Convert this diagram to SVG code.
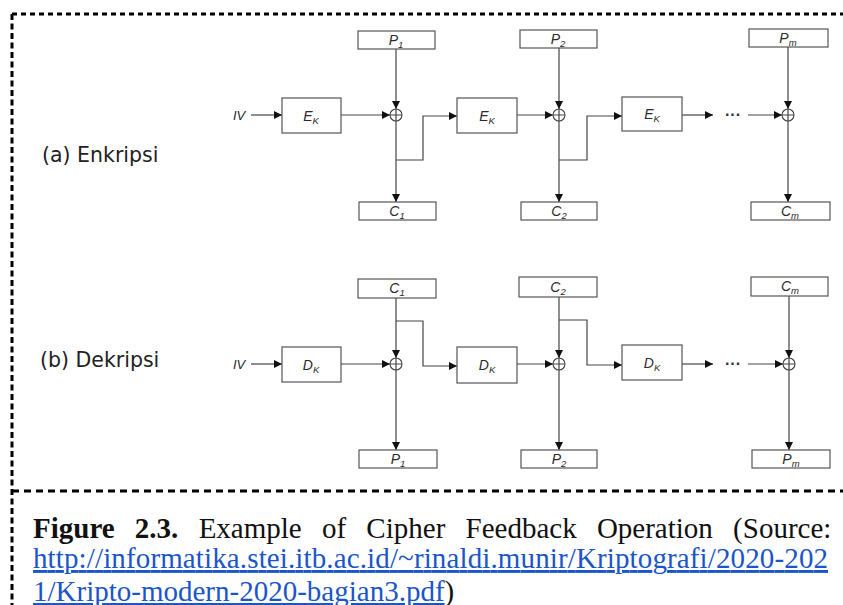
<svg xmlns="http://www.w3.org/2000/svg" width="843" height="605" viewBox="0 0 843 605">
  <style>
    .box { fill: #ffffff; stroke: #555555; stroke-width: 1.2; }
    .wire { fill: none; stroke: #444444; stroke-width: 1.2; }
    .xor { fill: #ffffff; stroke: #444444; stroke-width: 1.1; }
    .lbl { font-family: "Liberation Sans", Arial, sans-serif; font-style: italic; font-size: 14px; fill: #2a2a2a; text-anchor: middle; }
    .sub { font-size: 9.5px; }
    .iv { font-family: "Liberation Sans", Arial, sans-serif; font-style: italic; font-size: 13px; fill: #2a2a2a; }
    .dots { font-family: "Liberation Sans", Arial, sans-serif; font-size: 16px; font-weight: bold; fill: #333333; }
    .row { font-family: "DejaVu Sans", Verdana, sans-serif; font-size: 20.5px; fill: #222222; }
    .frame { fill: none; stroke: #000000; stroke-width: 3; }
    .cap { font-family: "Liberation Serif", "Times New Roman", serif; font-size: 29px; fill: #111111; }
    .link { fill: #1a56c8; text-decoration: underline; }
  </style>
  <defs>
    <marker id="arr" viewBox="0 0 8 8" refX="8" refY="4" markerWidth="8" markerHeight="8" markerUnits="userSpaceOnUse" orient="auto">
      <path d="M0,0 L8,4 L0,8 Z" fill="#111111"/>
    </marker>
    <g id="xorsym">
      <circle class="xor" cx="0" cy="0" r="6"/>
      <path class="wire" d="M-6,0 H6 M0,-6 V6" stroke-width="0.9"/>
    </g>
  </defs>

  <!-- dashed frame -->
  <g id="frame">
    <path class="frame" d="M12,14 H843" stroke-dasharray="5 4"/>
    <path class="frame" d="M12,14 V605" stroke-dasharray="6 3.5"/>
    <path class="frame" d="M12,491 H843" stroke-dasharray="7 5"/>
  </g>

  <!-- row titles -->
  <text class="row" x="42" y="162">(a) Enkripsi</text>
  <text class="row" x="40" y="367">(b) Dekripsi</text>

  <!-- connectors -->
  <g id="connectors">
    <!-- encryption -->
    <path class="wire" d="M251,115 H282" marker-end="url(#arr)"/>
    <path class="wire" d="M341,115 H390" marker-end="url(#arr)"/>
    <path class="wire" d="M396,49 V109" marker-end="url(#arr)"/>
    <path class="wire" d="M396,121 V202" marker-end="url(#arr)"/>
    <path class="wire" d="M396,160 H423 V116 H457" marker-end="url(#arr)"/>
    <path class="wire" d="M517,115 H553" marker-end="url(#arr)"/>
    <path class="wire" d="M559,48 V109" marker-end="url(#arr)"/>
    <path class="wire" d="M559,121 V202" marker-end="url(#arr)"/>
    <path class="wire" d="M559,160 H587 V116 H622" marker-end="url(#arr)"/>
    <path class="wire" d="M682,115 H713" marker-end="url(#arr)"/>
    <path class="wire" d="M748,115 H782" marker-end="url(#arr)"/>
    <path class="wire" d="M788,47 V109" marker-end="url(#arr)"/>
    <path class="wire" d="M788,121 V202" marker-end="url(#arr)"/>
    <!-- decryption -->
    <path class="wire" d="M251,364 H282" marker-end="url(#arr)"/>
    <path class="wire" d="M341,364 H390" marker-end="url(#arr)"/>
    <path class="wire" d="M396,298 V358" marker-end="url(#arr)"/>
    <path class="wire" d="M396,370 V450" marker-end="url(#arr)"/>
    <path class="wire" d="M396,321 H423 V366 H457" marker-end="url(#arr)"/>
    <path class="wire" d="M517,364 H553" marker-end="url(#arr)"/>
    <path class="wire" d="M559,297 V358" marker-end="url(#arr)"/>
    <path class="wire" d="M559,370 V450" marker-end="url(#arr)"/>
    <path class="wire" d="M559,320 H587 V365 H622" marker-end="url(#arr)"/>
    <path class="wire" d="M682,364 H713" marker-end="url(#arr)"/>
    <path class="wire" d="M748,364 H783" marker-end="url(#arr)"/>
    <path class="wire" d="M789,296 V358" marker-end="url(#arr)"/>
    <path class="wire" d="M789,370 V450" marker-end="url(#arr)"/>
  </g>

  <!-- encryption nodes -->
  <g id="enc-iv"><text class="iv" x="233" y="120">IV</text></g>
  <g id="enc-ek1"><rect class="box" x="282" y="98" width="59" height="35"/><text class="lbl" x="311" y="121">E<tspan class="sub" dy="3">K</tspan></text></g>
  <g id="enc-xor1"><use href="#xorsym" x="396" y="115"/></g>
  <g id="enc-p1"><rect class="box" x="358" y="31" width="77" height="18"/><text class="lbl" x="396" y="45">P<tspan class="sub" dy="3">1</tspan></text></g>
  <g id="enc-c1"><rect class="box" x="359" y="202" width="77" height="18"/><text class="lbl" x="397" y="216">C<tspan class="sub" dy="3">1</tspan></text></g>
  <g id="enc-ek2"><rect class="box" x="457" y="98" width="60" height="35"/><text class="lbl" x="487" y="121">E<tspan class="sub" dy="3">K</tspan></text></g>
  <g id="enc-xor2"><use href="#xorsym" x="559" y="115"/></g>
  <g id="enc-p2"><rect class="box" x="520" y="30" width="77" height="18"/><text class="lbl" x="558" y="44">P<tspan class="sub" dy="3">2</tspan></text></g>
  <g id="enc-c2"><rect class="box" x="521" y="202" width="76" height="18"/><text class="lbl" x="559" y="216">C<tspan class="sub" dy="3">2</tspan></text></g>
  <g id="enc-ek3"><rect class="box" x="622" y="97" width="60" height="34"/><text class="lbl" x="652" y="119">E<tspan class="sub" dy="3">K</tspan></text></g>
  <g id="enc-dots"><text class="dots" x="725" y="120">···</text></g>
  <g id="enc-xorm"><use href="#xorsym" x="788" y="115"/></g>
  <g id="enc-pm"><rect class="box" x="749" y="29" width="79" height="18"/><text class="lbl" x="788" y="43">P<tspan class="sub" dy="3">m</tspan></text></g>
  <g id="enc-cm"><rect class="box" x="751" y="202" width="79" height="18"/><text class="lbl" x="790" y="216">C<tspan class="sub" dy="3">m</tspan></text></g>

  <!-- decryption nodes -->
  <g id="dec-iv"><text class="iv" x="233" y="369">IV</text></g>
  <g id="dec-dk1"><rect class="box" x="282" y="347" width="59" height="35"/><text class="lbl" x="311" y="370">D<tspan class="sub" dy="3">K</tspan></text></g>
  <g id="dec-xor1"><use href="#xorsym" x="396" y="364"/></g>
  <g id="dec-c1"><rect class="box" x="358" y="279" width="78" height="19"/><text class="lbl" x="397" y="293">C<tspan class="sub" dy="3">1</tspan></text></g>
  <g id="dec-p1"><rect class="box" x="359" y="450" width="78" height="18"/><text class="lbl" x="398" y="464">P<tspan class="sub" dy="3">1</tspan></text></g>
  <g id="dec-dk2"><rect class="box" x="457" y="347" width="60" height="36"/><text class="lbl" x="487" y="370">D<tspan class="sub" dy="3">K</tspan></text></g>
  <g id="dec-xor2"><use href="#xorsym" x="559" y="364"/></g>
  <g id="dec-c2"><rect class="box" x="519" y="277" width="78" height="20"/><text class="lbl" x="558" y="292">C<tspan class="sub" dy="3">2</tspan></text></g>
  <g id="dec-p2"><rect class="box" x="521" y="450" width="76" height="18"/><text class="lbl" x="559" y="464">P<tspan class="sub" dy="3">2</tspan></text></g>
  <g id="dec-dk3"><rect class="box" x="622" y="345" width="60" height="35"/><text class="lbl" x="652" y="368">D<tspan class="sub" dy="3">K</tspan></text></g>
  <g id="dec-dots"><text class="dots" x="725" y="369">···</text></g>
  <g id="dec-xorm"><use href="#xorsym" x="789" y="364"/></g>
  <g id="dec-cm"><rect class="box" x="751" y="277" width="77" height="19"/><text class="lbl" x="790" y="291">C<tspan class="sub" dy="3">m</tspan></text></g>
  <g id="dec-pm"><rect class="box" x="752" y="450" width="78" height="18"/><text class="lbl" x="791" y="464">P<tspan class="sub" dy="3">m</tspan></text></g>

  <!-- caption -->
  <g id="caption">
    <text class="cap" x="33" y="538" word-spacing="13"><tspan font-weight="bold">Figure 2.3.</tspan> Example of Cipher Feedback Operation (Source:</text>
    <text class="cap link" x="33" y="568" textLength="795" lengthAdjust="spacing">http://informatika.stei.itb.ac.id/~rinaldi.munir/Kriptografi/2020-202</text>
    <text class="cap" x="33" y="601"><tspan class="link">1/Kripto-modern-2020-bagian3.pdf</tspan>)</text>
  </g>
</svg>
